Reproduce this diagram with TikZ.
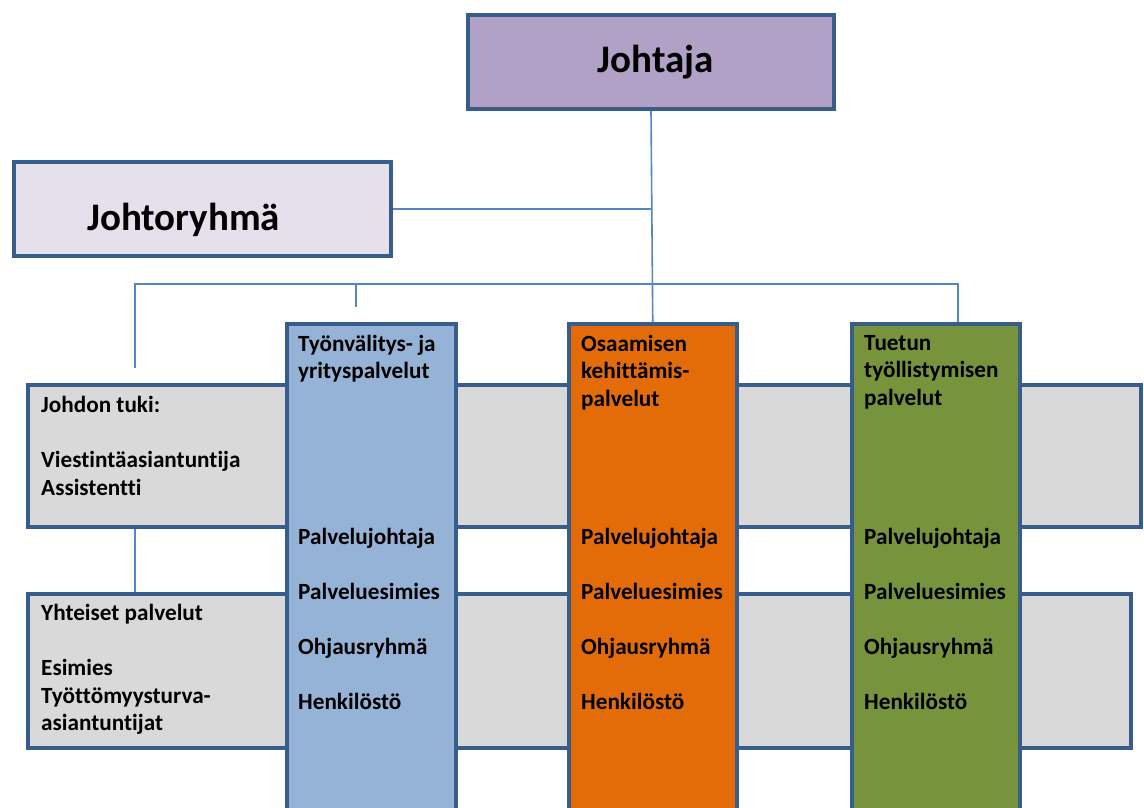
\documentclass[tikz,border=0pt]{standalone}
\usepackage{fontspec}
\setmainfont{Carlito}[Ligatures=NoCommon]
\usetikzlibrary{positioning}

\definecolor{edgecol}{RGB}{56,93,138}
\definecolor{linkcol}{RGB}{84,133,196}
\definecolor{bosscol}{RGB}{178,161,199}
\definecolor{mgmtcol}{RGB}{229,224,236}
\definecolor{graycol}{RGB}{217,217,217}
\definecolor{bluecol}{RGB}{149,179,215}
\definecolor{orangecol}{RGB}{227,108,9}
\definecolor{greencol}{RGB}{119,147,60}

\begin{document}
\begin{tikzpicture}[x=1pt,y=-1pt,
	box/.style={rectangle, draw=edgecol, line width=3.5pt, inner sep=0pt},
	bigtxt/.style={font=\bfseries\fontsize{39}{47}\selectfont, inner sep=0pt},
	smalltxt/.style={font=\bfseries\fontsize{23.2}{27.5}\selectfont, align=left, anchor=north west, inner sep=0pt, execute at begin node=\strut},
	link/.style={draw=linkcol, line width=1.6pt}]

	\useasboundingbox (0,0) rectangle (1144,807);
	\clip (0,0) rectangle (1144,807);

	%Nodes
	\node[box, fill=bosscol, bigtxt, minimum width=366pt, minimum height=94pt]	(boss)	at (651,62) {\hspace*{10pt}Johtaja};
	\node[box, fill=mgmtcol, minimum width=377pt, minimum height=94pt]	(mgmt)	at (202.5,209) {};
	\node[bigtxt, anchor=base west]	(mgmtlbl)	at (87,230) {Johtoryhmä};

	\node[box, fill=graycol, anchor=north west, minimum width=1113pt, minimum height=142pt]	(tuki)	at (26,383) {};
	\node[box, fill=graycol, anchor=north west, minimum width=1103pt, minimum height=154pt]	(yht)	at (26,592) {};
	\node[smalltxt]	(tukilbl)	at (41,396.5) {Johdon tuki:\\[27.5pt]Viestintäasiantuntija\\Assistentti};
	\node[smalltxt]	(yhtlbl)	at (41,604.5) {Yhteiset palvelut\\[27.5pt]Esimies\\Työttömyysturva-\\asiantuntijat};

	\node[box, fill=bluecol, anchor=north west, minimum width=169pt, minimum height=520pt]	(tyo)	at (285,322) {};
	\node[box, fill=orangecol, anchor=north west, minimum width=168pt, minimum height=520pt]	(kehit)	at (567,322) {};
	\node[box, fill=greencol, anchor=north west, minimum width=168pt, minimum height=520pt]	(tuetun)	at (850,322) {};

	\node[smalltxt]	(tyolbl)	at (298,335) {Työnvälitys- ja\\yrityspalvelut};
	\node[smalltxt]	(kehitlbl)	at (581,335) {Osaamisen\\kehittämis-\\palvelut};
	\node[smalltxt]	(tuetunlbl)	at (864,335) {Tuetun\\työllistymisen\\palvelut};
	\foreach \col/\x in {tyo/298, kehit/581, tuetun/864}
		\node[smalltxt]	(\col items)	at (\x,528.5) {Palvelujohtaja\\[27.5pt]Palveluesimies\\[27.5pt]Ohjausryhmä\\[27.5pt]Henkilöstö};

	\coordinate	(busL)	at (135,284);
	\coordinate	(busR)	at (958,284);
	\coordinate	(tukiend)	at (135,368);
	\coordinate	(tyoend)	at (356,307);

	%Lines
	\draw[link] (boss.south) -- (kehit.north);
	\draw[link] (mgmt.east) -- (mgmt.east -| boss.south);
	\draw[link] (tukiend) -- (busL) -- (busR) -- (busR |- tuetun.north);
	\draw[link] (tyoend) -- (tyoend |- busL);
	\draw[link] (busL |- tuki.south) -- (busL |- yht.north);
\end{tikzpicture}
\end{document}
